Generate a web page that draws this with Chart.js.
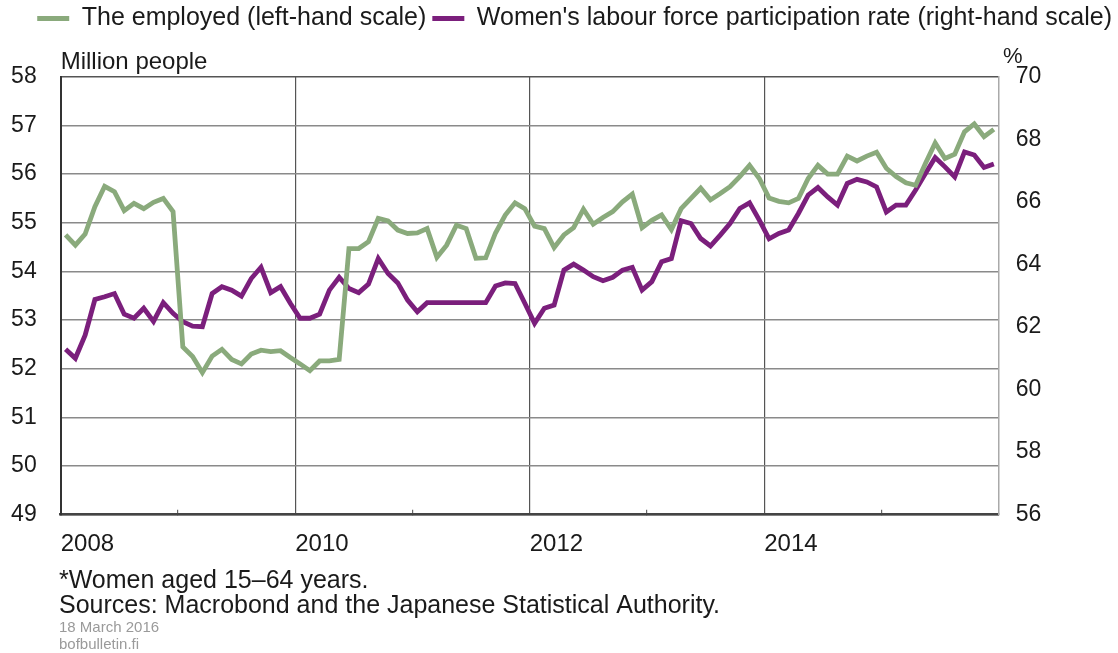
<!DOCTYPE html>
<html>
<head>
<meta charset="utf-8">
<title>The employed and women's labour force participation rate</title>
<script src="https://cdn.jsdelivr.net/npm/chart.js@4.4.1/dist/chart.umd.min.js"></script>
<style>
  html, body { margin: 0; padding: 0; background: #fff; }
  #wrap { width: 1118px; height: 653px; }
</style>
</head>
<body>
<div id="wrap"><canvas id="chart" width="1118" height="653"></canvas></div>
<script>
// monthly data, Jan 2008 - Dec 2015
const startYear = 2008;
const yearLabels = ['2008', '2010', '2012', '2014'];

// the employed, million people (left-hand scale)
const employed = [
  54.75, 54.54, 54.77, 55.33, 55.75, 55.64, 55.25, 55.40, 55.29, 55.42, 55.50, 55.23,
  52.45, 52.25, 51.92, 52.26, 52.40, 52.19, 52.10, 52.30, 52.38, 52.35, 52.37, 52.23,
  52.10, 51.96, 52.16, 52.16, 52.19, 54.47, 54.47, 54.61, 55.09, 55.04, 54.85, 54.78,
  54.79, 54.88, 54.29, 54.54, 54.95, 54.88, 54.27, 54.28, 54.79, 55.16, 55.41, 55.29,
  54.93, 54.88, 54.49, 54.75, 54.90, 55.28, 54.97, 55.11, 55.23, 55.43, 55.59, 54.90,
  55.05, 55.16, 54.86, 55.29, 55.50, 55.71, 55.47, 55.60, 55.74, 55.95, 56.18, 55.91,
  55.51, 55.44, 55.41, 55.50, 55.91, 56.18, 56.00, 56.00, 56.37, 56.27, 56.37, 56.45,
  56.12, 55.95, 55.82, 55.77, 56.22, 56.64, 56.32, 56.41, 56.87, 57.03, 56.77, 56.92
];

// women's labour force participation rate, % (right-hand scale)
const participation = [
  61.29, 61.00, 61.74, 62.88, 62.97, 63.07, 62.41, 62.28, 62.60, 62.18, 62.78, 62.44,
  62.17, 62.03, 62.01, 63.07, 63.29, 63.18, 62.99, 63.55, 63.91, 63.10, 63.29, 62.76,
  62.28, 62.28, 62.41, 63.18, 63.59, 63.23, 63.10, 63.37, 64.19, 63.71, 63.41, 62.86,
  62.49, 62.78, 62.78, 62.78, 62.78, 62.78, 62.78, 62.78, 63.31, 63.41, 63.39, 62.76,
  62.12, 62.60, 62.70, 63.82, 64.01, 63.82, 63.61, 63.48, 63.59, 63.82, 63.91, 63.18,
  63.45, 64.09, 64.19, 65.40, 65.31, 64.83, 64.59, 64.94, 65.31, 65.79, 65.97, 65.42,
  64.82, 64.99, 65.10, 65.63, 66.22, 66.46, 66.16, 65.90, 66.59, 66.72, 66.64, 66.48,
  65.68, 65.90, 65.90, 66.38, 66.91, 67.42, 67.12, 66.80, 67.60, 67.50, 67.10, 67.21
];

const footNote = '*Women aged 15\u201364 years.';
const sources = 'Sources: Macrobond and the Japanese Statistical Authority.';
const dateLine = '18 March 2016';
const siteLine = 'bofbulletin.fi';

const GREEN = '#8aaa7c';
const PURPLE = '#7b1f7c';
const TEXT = '#1a1a1a';

// months plotted at mid-month
const toPoints = (arr) => arr.map((v, i) => ({ x: i + 0.5, y: v }));

Chart.defaults.font.family = '"Liberation Sans", Arial, Helvetica, sans-serif';
Chart.defaults.color = TEXT;

// "%" over the right axis and the source notes below the chart
const notesPlugin = {
  id: 'notes',
  afterDraw(chart) {
    const ctx = chart.ctx;
    ctx.save();
    ctx.textAlign = 'left';
    ctx.textBaseline = 'middle';
    ctx.fillStyle = TEXT;
    ctx.font = '22px ' + Chart.defaults.font.family;
    ctx.fillText('%', 1003, 57);
    ctx.font = '25px ' + Chart.defaults.font.family;
    ctx.fillText(footNote, 59, 581);
    ctx.fillText(sources, 59, 606);
    ctx.fillStyle = '#9a9a9a';
    ctx.font = '15px ' + Chart.defaults.font.family;
    ctx.fillText(dateLine, 59, 628);
    ctx.fillText(siteLine, 59, 645);
    ctx.restore();
  }
};

new Chart(document.getElementById('chart'), {
  type: 'line',
  data: {
    datasets: [
      {
        label: 'The employed (left-hand scale)',
        data: toPoints(employed),
        yAxisID: 'y',
        borderColor: GREEN,
        backgroundColor: GREEN,
        borderWidth: 4.8,
        pointRadius: 0,
        tension: 0
      },
      {
        label: "Women's labour force participation rate (right-hand scale)",
        data: toPoints(participation),
        yAxisID: 'y1',
        borderColor: PURPLE,
        backgroundColor: PURPLE,
        borderWidth: 4.8,
        pointRadius: 0,
        tension: 0
      }
    ]
  },
  options: {
    responsive: false,
    animation: false,
    layout: { padding: 0 },
    plugins: {
      tooltip: { enabled: false },
      legend: {
        position: 'top',
        align: 'end',
        labels: {
          font: { size: 25 },
          color: TEXT,
          usePointStyle: true,
          pointStyle: 'line',
          pointStyleWidth: 32,
          padding: 6
        }
      },
      title: {
        display: true,
        text: 'Million people',
        position: 'top',
        align: 'start',
        fullSize: false,
        weight: 500,
        color: TEXT,
        font: { size: 24, weight: 'normal' },
        padding: { top: 7, bottom: 0 }
      }
    },
    scales: {
      x: {
        type: 'linear',
        min: 0,
        max: 96,
        afterFit: (s) => { s.height = 138.3; },
        ticks: {
          stepSize: 12,
          autoSkip: false,
          maxRotation: 0,
          align: 'start',
          padding: 20,
          font: { size: 24 },
          color: TEXT,
          callback: (v) => (v % 24 === 0 && v < 96) ? yearLabels[v / 24] : ''
        },
        grid: {
          lineWidth: 1.2,
          color: (c) => {
            const v = c.tick ? c.tick.value : 0;
            return (v % 24 === 0 && v > 0 && v < 96) ? '#555' : 'rgba(0,0,0,0)';
          },
          drawTicks: true,
          tickLength: -5,
          tickWidth: 1.2,
          tickColor: (c) => {
            const v = c.tick ? c.tick.value : 0;
            return (v % 24 === 12) ? '#666' : 'rgba(0,0,0,0)';
          }
        },
        border: { display: true, color: '#444', width: 2.5 }
      },
      y: {
        position: 'left',
        min: 49,
        max: 58,
        afterFit: (s) => { s.width = 60.7; },
        ticks: {
          stepSize: 1,
          padding: 24,
          font: { size: 23 },
          color: TEXT
        },
        grid: {
          lineWidth: 1.5,
          color: (c) => (c.tick && c.tick.value === 58) ? '#555' : '#8a8a8a',
          drawTicks: false
        },
        border: { display: true, color: '#333', width: 2 }
      },
      y1: {
        position: 'right',
        min: 56,
        max: 70,
        afterFit: (s) => { s.width = 119.3; },
        ticks: {
          stepSize: 2,
          padding: 17,
          font: { size: 23 },
          color: TEXT
        },
        grid: { drawOnChartArea: false, drawTicks: false },
        border: { display: true, color: '#aaa', width: 1.5 }
      }
    }
  },
  plugins: [notesPlugin]
});
</script>
</body>
</html>
